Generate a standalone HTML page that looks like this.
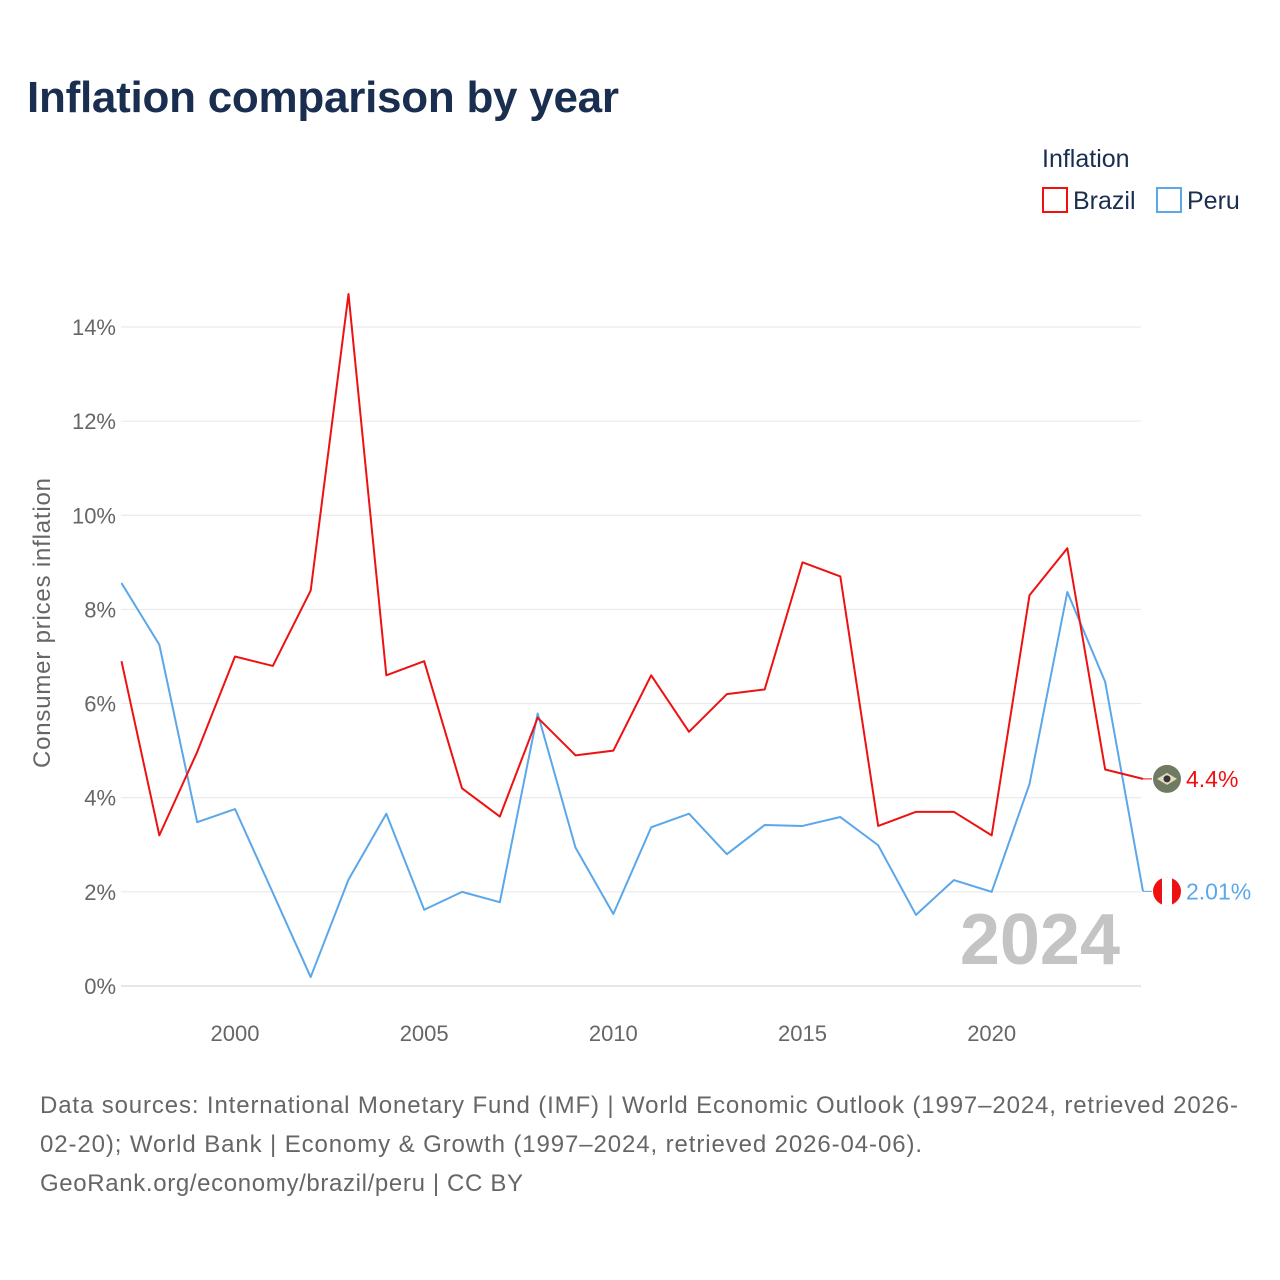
<!DOCTYPE html>
<html><head><meta charset="utf-8"><style>
body{margin:0;background:#fff;font-family:"Liberation Sans",sans-serif;}
svg{display:block}
</style></head><body>
<svg id="chart" width="1280" height="1280" viewBox="0 0 1280 1280">
<text x="27" y="112" font-size="44" font-weight="bold" fill="#1a2e50" textLength="592">Inflation comparison by year</text>
<text x="1042" y="167" font-size="25" fill="#1a2e50">Inflation</text>
<g><rect x="1043" y="188" width="24" height="24" fill="none" stroke="#ee1111" stroke-width="2"/><text x="1073" y="209" font-size="25" fill="#1a2e50">Brazil</text></g>
<g><rect x="1157" y="188" width="24" height="24" fill="none" stroke="#5ba7ea" stroke-width="2"/><text x="1187" y="209" font-size="25" fill="#1a2e50">Peru</text></g>
<text transform="translate(50,623) rotate(-90)" text-anchor="middle" font-size="24" fill="#666" textLength="290">Consumer prices inflation</text>
<g id="grid"></g><g id="xt"></g><g id="lines"></g>
<text x="1120" y="964" text-anchor="end" font-size="72" font-weight="bold" fill="#c4c4c4">2024</text>
<g font-size="24" fill="#666">
<text x="40" y="1113" textLength="1198">Data sources: International Monetary Fund (IMF) | World Economic Outlook (1997–2024, retrieved 2026-</text>
<text x="40" y="1152" textLength="882">02-20); World Bank | Economy &amp; Growth (1997–2024, retrieved 2026-04-06).</text>
<text x="40" y="1191" textLength="483">GeoRank.org/economy/brazil/peru | CC BY</text>
</g>
</svg>
<script>
const years=[1997,1998,1999,2000,2001,2002,2003,2004,2005,2006,2007,2008,2009,2010,2011,2012,2013,2014,2015,2016,2017,2018,2019,2020,2021,2022,2023,2024];
const brazil=[6.9,3.2,4.97,7.0,6.8,8.4,14.7,6.6,6.9,4.2,3.6,5.7,4.9,5.0,6.6,5.4,6.2,6.3,9.0,8.7,3.4,3.7,3.7,3.2,8.3,9.3,4.6,4.4];
const peru=[8.56,7.25,3.48,3.76,1.98,0.19,2.26,3.66,1.62,2.0,1.78,5.79,2.94,1.53,3.37,3.66,2.8,3.42,3.4,3.59,2.99,1.51,2.25,2.0,4.29,8.37,6.46,2.01];
const yTicks=[0,2,4,6,8,10,12,14];
const xTicks=[2000,2005,2010,2015,2020];
const NS='http://www.w3.org/2000/svg';
const X=v=>121.5+(v-1997)*(1143-121.5)/27;
const Y=v=>986-v*(986-327)/14;
function mk(t,a,p){const e=document.createElementNS(NS,t);for(const k in a)e.setAttribute(k,a[k]);p.appendChild(e);return e;}
const g=document.getElementById('grid');
yTicks.forEach(t=>{
 const l=mk('line',{x1:121,x2:1141,y1:Y(t),y2:Y(t),stroke:t===0?'#ccc':'#e6e6e6','stroke-width':1},g);
 
 
 const tx=mk('text',{x:116,y:Y(t)+8,'text-anchor':'end','font-size':22,fill:'#666'},g);tx.textContent=t+'%';
 
 
});
const xt=document.getElementById('xt');
xTicks.forEach(t=>{
 const tx=mk('text',{x:X(t),y:1041,'text-anchor':'middle','font-size':22,fill:'#666'},xt);tx.textContent=t;
 
 
});
const L=document.getElementById('lines');
function series(vals,col,name,label){
 const p=mk('polyline',{points:vals.map((v,i)=>X(years[i])+','+Y(v)).join(' '),fill:'none',stroke:col,'stroke-width':2,'stroke-linejoin':'round'},L);
 
 
 const last=vals[vals.length-1],ly=Y(last);
 mk('line',{x1:X(2024),x2:1152,y1:ly,y2:ly,stroke:col,'stroke-width':1},L);
 const c=mk('circle',{cx:1167,cy:ly,r:14,fill:name==='brazil'?'#6f7a62':'#e11'},L);
 
 
 if(name==='peru'){mk('rect',{x:1162,y:ly-14,width:10,height:28,fill:'#fff'},L);}
 else{mk('polygon',{points:`1157,${ly} 1167,${ly-6} 1177,${ly} 1167,${ly+6}`,fill:'#e8d9b8'},L);mk('circle',{cx:1167,cy:ly,r:3.5,fill:'#334'},L);}
 const t=mk('text',{x:1186,y:ly+8,'font-size':23,fill:col},L);t.textContent=label;
 
 
}
series(peru,'#5ba7ea','peru',peru[peru.length-1]+'%');
series(brazil,'#ee1111','brazil',brazil[brazil.length-1]+'%');
</script>
</body></html>
